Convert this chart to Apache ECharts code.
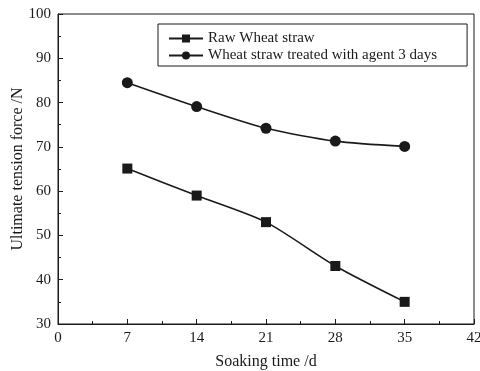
<!DOCTYPE html>
<html>
<head>
<meta charset="utf-8">
<script src="https://cdn.jsdelivr.net/npm/echarts@6/dist/echarts.min.js"></script>
<style>
  html, body { margin: 0; padding: 0; background: #fff; }
  #chart { width: 480px; height: 371px; }
</style>
</head>
<body>
<div id="chart"></div>
<script>
// Soaking time (days) and measured ultimate tension force (N)
const soakDays = [7, 14, 21, 28, 35];
const rawStraw = [65.1, 59.0, 53.0, 43.1, 35.0];
const treatedStraw = [84.5, 79.1, 74.2, 71.3, 70.1];
const seriesNames = ['Raw Wheat straw', 'Wheat straw treated with agent 3 days'];

const font = 'Liberation Serif, Times New Roman, serif';
const ink = '#1a1a1a';

const chart = echarts.init(document.getElementById('chart'), null, { renderer: 'canvas' });

const pairs = (xs, ys) => xs.map((x, i) => [x, ys[i]]);

chart.setOption({
  animation: false,
  backgroundColor: '#fff',
  textStyle: { fontFamily: font, color: ink },
  grid: {
    left: 58, right: 6, top: 14, bottom: 47,
    containLabel: false,
    outerBoundsMode: 'none',
    show: true, borderColor: ink, borderWidth: 1, backgroundColor: 'transparent'
  },
  legend: {
    orient: 'vertical',
    left: 158, top: 24,
    width: 309,
    padding: [7, 30, 3, 10],
    itemGap: 2,
    itemWidth: 34,
    itemHeight: 10,
    borderColor: ink,
    borderWidth: 1,
    textStyle: { fontFamily: font, fontSize: 15, color: ink, padding: [0, 0, 0, 0] },
    data: seriesNames
  },
  xAxis: {
    type: 'value',
    min: 0, max: 42, interval: 7,
    name: 'Soaking time /d',
    nameLocation: 'middle',
    nameGap: 30,
    nameMoveOverlap: false,
    nameTextStyle: { fontFamily: font, fontSize: 16, color: ink },
    axisLine: { lineStyle: { color: ink, width: 1 } },
    axisTick: { inside: true, length: 5, lineStyle: { color: ink } },
    minorTick: { show: true, splitNumber: 2, length: 3, lineStyle: { color: ink } },
    axisLabel: { fontFamily: font, fontSize: 15, color: ink, margin: 7 },
    splitLine: { show: false }
  },
  yAxis: {
    type: 'value',
    min: 30, max: 100, interval: 10,
    name: 'Ultimate tension force /N',
    nameLocation: 'middle',
    nameGap: 32,
    nameMoveOverlap: false,
    nameTextStyle: { fontFamily: font, fontSize: 16, color: ink },
    axisLine: { show: true, lineStyle: { color: ink, width: 1 } },
    axisTick: { inside: true, length: 5, lineStyle: { color: ink } },
    minorTick: { show: true, splitNumber: 2, length: 3, lineStyle: { color: ink } },
    axisLabel: { fontFamily: font, fontSize: 15, color: ink, margin: 7 },
    splitLine: { show: false }
  },
  series: [
    {
      name: seriesNames[0],
      type: 'line',
      data: pairs(soakDays, rawStraw),
      smooth: 0.25,
      symbol: 'rect',
      symbolSize: 10,
      itemStyle: { color: ink },
      lineStyle: { color: ink, width: 1.6 }
    },
    {
      name: seriesNames[1],
      type: 'line',
      data: pairs(soakDays, treatedStraw),
      smooth: 0.25,
      symbol: 'circle',
      symbolSize: 11,
      itemStyle: { color: ink },
      lineStyle: { color: ink, width: 1.6 }
    }
  ]
});
</script>
</body>
</html>
